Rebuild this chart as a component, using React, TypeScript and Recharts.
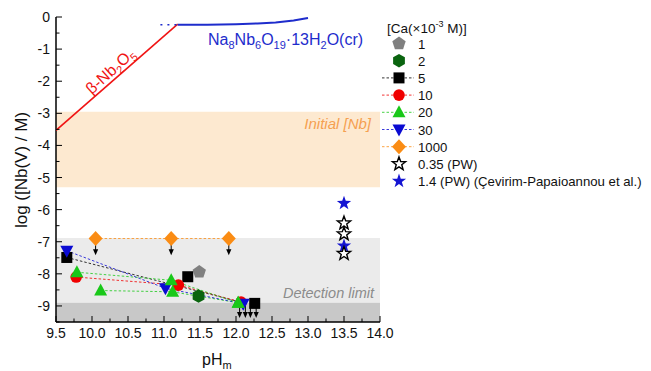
import React from 'react';
import { ComposedChart, XAxis, YAxis, Scatter, ReferenceArea } from 'recharts';

const FONT = '"Liberation Sans", Arial, sans-serif';

// ---- axis ticks ----
const xMajorTicks = [9.5, 10, 10.5, 11, 11.5, 12, 12.5, 13, 13.5, 14];
const xMinorTicks = [9.75, 10.25, 10.75, 11.25, 11.75, 12.25, 12.75, 13.25, 13.75];
const yMajorTicks = [-9, -8, -7, -6, -5, -4, -3, -2, -1, 0];
const yMinorTicks = [-9.5, -8.5, -7.5, -6.5, -5.5, -4.5, -3.5, -2.5, -1.5, -0.5];

// ---- bands ----
const initialNbBand = [-5.3, -2.95];
const detectionBand = [-8.9, -6.88];
const belowLimitBand = [-9.5, -8.9];

// ---- solubility lines ----
const nb2o5Line = [{ x: 9.5, y: -3.53 }, { x: 11.19, y: -0.22 }];
const na8Lead = [{ x: 10.95, y: -0.24 }, { x: 11.19, y: -0.24 }];
const na8Curve = [
  { x: 11.19, y: -0.24 }, { x: 11.6, y: -0.24 }, { x: 12.0, y: -0.225 },
  { x: 12.3, y: -0.2 }, { x: 12.55, y: -0.17 }, { x: 12.8, y: -0.11 }, { x: 13.0, y: -0.03 },
];

// ---- measured data ([Ca] x10^-3 M) ----
const ca1 = [{ x: 11.49, y: -7.94 }];
const ca2 = [{ x: 11.48, y: -8.69 }];
const ca5Line = [{ x: 9.65, y: -7.49 }, { x: 12.1, y: -8.9 }];
const ca5 = [{ x: 9.65, y: -7.49 }, { x: 11.33, y: -8.09 }, { x: 12.26, y: -8.92 }];
const ca10 = [{ x: 9.78, y: -8.1 }, { x: 11.2, y: -8.35 }, { x: 12.07, y: -8.88 }];
const ca20a = [{ x: 9.79, y: -7.95 }, { x: 11.1, y: -8.2 }, { x: 12.03, y: -8.9 }];
const ca20b = [{ x: 10.12, y: -8.52 }, { x: 11.12, y: -8.56 }, { x: 12.03, y: -8.9 }];
const ca30 = [{ x: 9.65, y: -7.28 }, { x: 11.02, y: -8.45 }, { x: 12.1, y: -8.93 }];
const ca1000 = [{ x: 10.05, y: -6.9 }, { x: 11.1, y: -6.9 }, { x: 11.9, y: -6.9 }];
const pw035 = [{ x: 13.5, y: -6.42 }, { x: 13.5, y: -6.76 }, { x: 13.5, y: -7.37 }];
const pw14 = [{ x: 13.5, y: -5.8 }, { x: 13.5, y: -7.13 }];
const upperLimitArrows = [
  { x: 10.05, y: -7.05 }, { x: 11.1, y: -7.05 }, { x: 11.9, y: -7.05 },
  { x: 12.05, y: -9.0 }, { x: 12.13, y: -9.0 }, { x: 12.2, y: -9.0 }, { x: 12.28, y: -9.0 },
];

// ---- colours ----
const C = {
  gray: '#808080', dkgreen: '#0a640f', black: '#000000', red: '#f00000',
  green: '#19c819', blue: '#0a0ad2', orange: '#fa8c14', star: '#1414d2',
};

const allXTicks = [...xMajorTicks, ...xMinorTicks].sort((a, b) => a - b);
const allYTicks = [...yMajorTicks, ...yMinorTicks].sort((a, b) => a - b);
const isMajorX = (v: number) => xMajorTicks.some((t) => Math.abs(t - v) < 1e-6);
const isMajorY = (v: number) => yMajorTicks.some((t) => Math.abs(t - v) < 1e-6);

// ---- marker shapes ----
const poly = (cx: number, cy: number, n: number, r: number, rot: number) =>
  Array.from({ length: n }, (_, i) => {
    const a = rot + (i * 2 * Math.PI) / n;
    return `${cx + r * Math.cos(a)},${cy + r * Math.sin(a)}`;
  }).join(' ');
const starPts = (cx: number, cy: number, ro: number, ri: number) =>
  Array.from({ length: 10 }, (_, i) => {
    const r = i % 2 === 0 ? ro : ri;
    const a = -Math.PI / 2 + (i * Math.PI) / 5;
    return `${cx + r * Math.cos(a)},${cy + r * Math.sin(a)}`;
  }).join(' ');

type MP = { cx?: number; cy?: number };
const Square = (c: string) => ({ cx = 0, cy = 0 }: MP) => <rect x={cx - 5.5} y={cy - 5.5} width={11} height={11} fill={c} />;
const Circle = (c: string) => ({ cx = 0, cy = 0 }: MP) => <circle cx={cx} cy={cy} r={5.8} fill={c} />;
const TriUp = (c: string) => ({ cx = 0, cy = 0 }: MP) => <polygon points={`${cx},${cy - 7} ${cx - 6.5},${cy + 5} ${cx + 6.5},${cy + 5}`} fill={c} />;
const TriDown = (c: string) => ({ cx = 0, cy = 0 }: MP) => <polygon points={`${cx},${cy + 7} ${cx - 6.5},${cy - 5} ${cx + 6.5},${cy - 5}`} fill={c} />;
const Diamond = (c: string) => ({ cx = 0, cy = 0 }: MP) => <polygon points={`${cx},${cy - 7.5} ${cx + 7},${cy} ${cx},${cy + 7.5} ${cx - 7},${cy}`} fill={c} />;
const Pentagon = (c: string) => ({ cx = 0, cy = 0 }: MP) => <polygon points={poly(cx, cy, 5, 7, -Math.PI / 2)} fill={c} />;
const Hexagon = (c: string) => ({ cx = 0, cy = 0 }: MP) => <polygon points={poly(cx, cy, 6, 6.8, -Math.PI / 2)} fill={c} />;
const StarFilled = (c: string) => ({ cx = 0, cy = 0 }: MP) => <polygon points={starPts(cx, cy, 7.5, 3)} fill={c} />;
const StarHollow = ({ cx = 0, cy = 0 }: MP) => <polygon points={starPts(cx, cy, 7, 2.9)} fill="#fff" stroke="#000" strokeWidth={1.4} strokeLinejoin="miter" />;
const Arrow = ({ cx = 0, cy = 0 }: MP) => (
  <g>
    <line x1={cx} y1={cy} x2={cx} y2={cy + 7} stroke="#000" strokeWidth={1} />
    <polygon points={`${cx - 2.6},${cy + 6} ${cx + 2.6},${cy + 6} ${cx},${cy + 12}`} fill="#000" />
  </g>
);
const NoDot = () => <g />;

// ---- ticks (inward) ----
const BottomTick = ({ x = 0, y = 0, payload }: any) => {
  const major = isMajorX(payload.value);
  return (
    <g>
      <line x1={x} y1={y} x2={x} y2={y - (major ? 6 : 3.5)} stroke="#000" strokeWidth={1} />
      {major && (
        <text x={x} y={y + 16} textAnchor="middle" fontSize={14} fontFamily={FONT} fill="#111">
          {payload.value.toFixed(1)}
        </text>
      )}
    </g>
  );
};
const TopTick = ({ x = 0, y = 0, payload }: any) => {
  const major = isMajorX(payload.value);
  return <line x1={x} y1={y} x2={x} y2={y + (major ? 6 : 3.5)} stroke="#000" strokeWidth={1} />;
};
const LeftTick = ({ x = 0, y = 0, payload }: any) => {
  const major = isMajorY(payload.value);
  return (
    <g>
      <line x1={x} y1={y} x2={x + (major ? 6 : 3.5)} y2={y} stroke="#000" strokeWidth={1} />
      {major && (
        <text x={x - 6} y={y + 5} textAnchor="end" fontSize={14} fontFamily={FONT} fill="#111">
          {payload.value === 0 ? '0' : String(payload.value)}
        </text>
      )}
    </g>
  );
};
const RightTick = ({ x = 0, y = 0, payload }: any) => {
  const major = isMajorY(payload.value);
  return <line x1={x} y1={y} x2={x - (major ? 6 : 3.5)} y2={y} stroke="#000" strokeWidth={1} />;
};

const dash = '2.5 2';

type LegendItem = { label: React.ReactNode; marker: (p: MP) => React.ReactElement; line?: string };
const legendItems: LegendItem[] = [
  { label: '1', marker: Pentagon(C.gray) },
  { label: '2', marker: Hexagon(C.dkgreen) },
  { label: '5', marker: Square(C.black), line: C.black },
  { label: '10', marker: Circle(C.red), line: C.red },
  { label: '20', marker: TriUp(C.green), line: C.green },
  { label: '30', marker: TriDown(C.blue), line: C.blue },
  { label: '1000', marker: Diamond(C.orange), line: C.orange },
  { label: '0.35 (PW)', marker: StarHollow },
  { label: '1.4 (PW) (Çevirim-Papaioannou et al.)', marker: StarFilled(C.star) },
];

export default function App() {
  return (
    <div style={{ position: 'absolute', left: 0, top: 0, width: 651, height: 371, background: '#fff', fontFamily: FONT }}>
      <ComposedChart width={651} height={371} margin={{ top: 17, right: 271, bottom: 0, left: 0 }}>
        <XAxis
          type="number" dataKey="x" domain={[9.5, 14]} ticks={allXTicks} interval={0}
          height={49} tickSize={0} tickMargin={0} tick={<BottomTick />} tickLine={false}
          axisLine={{ stroke: '#000', strokeWidth: 1.5 }} allowDataOverflow
        />
        <XAxis
          xAxisId="top" orientation="top" type="number" dataKey="x" domain={[9.5, 14]} ticks={allXTicks}
          interval={0} height={0} tickSize={0} tickMargin={0} tick={<TopTick />} tickLine={false}
          axisLine={{ stroke: '#000', strokeWidth: 1.5 }} allowDataOverflow
        />
        <YAxis
          type="number" dataKey="y" domain={[-9.5, 0]} ticks={allYTicks} interval={0}
          width={56} tickSize={0} tickMargin={0} tick={<LeftTick />} tickLine={false}
          axisLine={{ stroke: '#000', strokeWidth: 1.5 }} allowDataOverflow
        />
        <YAxis
          yAxisId="right" orientation="right" type="number" dataKey="y" domain={[-9.5, 0]} ticks={allYTicks}
          interval={0} width={0} tickSize={0} tickMargin={0} tick={<RightTick />} tickLine={false}
          axisLine={{ stroke: '#000', strokeWidth: 1.5 }} allowDataOverflow
        />

        <ReferenceArea y1={initialNbBand[0]} y2={initialNbBand[1]} x1={9.5} x2={14} fill="#fde9d0" fillOpacity={1} stroke="none" />
        <ReferenceArea y1={detectionBand[0]} y2={detectionBand[1]} x1={9.5} x2={14} fill="#ebebeb" fillOpacity={1} stroke="none" />
        <ReferenceArea y1={belowLimitBand[0]} y2={belowLimitBand[1]} x1={9.5} x2={14} fill="#c8c8c8" fillOpacity={1} stroke="none" />

        <Scatter data={nb2o5Line} dataKey="y" line={{ stroke: '#f01414', strokeWidth: 1.6 }} stroke="#f01414" shape={NoDot} isAnimationActive={false} />
        <Scatter data={na8Lead} dataKey="y" line={{ stroke: '#1e2ccc', strokeWidth: 1.6, strokeDasharray: '2 5' }} stroke="#1e2ccc" shape={NoDot} isAnimationActive={false} />
        <Scatter data={na8Curve} dataKey="y" line={{ stroke: '#1e2ccc', strokeWidth: 2 }} stroke="#1e2ccc" shape={NoDot} isAnimationActive={false} />

        <Scatter data={ca5Line} dataKey="y" line={{ stroke: C.black, strokeWidth: 0.8, strokeDasharray: dash }} stroke={C.black} shape={NoDot} isAnimationActive={false} />
        <Scatter data={ca10} dataKey="y" line={{ stroke: C.red, strokeWidth: 0.8, strokeDasharray: dash }} stroke={C.red} shape={NoDot} isAnimationActive={false} />
        <Scatter data={ca20a} dataKey="y" line={{ stroke: C.green, strokeWidth: 0.8, strokeDasharray: dash }} stroke={C.green} shape={NoDot} isAnimationActive={false} />
        <Scatter data={ca20b} dataKey="y" line={{ stroke: C.green, strokeWidth: 0.8, strokeDasharray: dash }} stroke={C.green} shape={NoDot} isAnimationActive={false} />
        <Scatter data={ca30} dataKey="y" line={{ stroke: C.blue, strokeWidth: 0.8, strokeDasharray: dash }} stroke={C.blue} shape={NoDot} isAnimationActive={false} />
        <Scatter data={ca1000} dataKey="y" line={{ stroke: C.orange, strokeWidth: 0.8, strokeDasharray: dash }} stroke={C.orange} shape={NoDot} isAnimationActive={false} />

        <Scatter data={upperLimitArrows} dataKey="y" shape={Arrow} isAnimationActive={false} />
        <Scatter data={ca1} dataKey="y" shape={Pentagon(C.gray)} isAnimationActive={false} />
        <Scatter data={ca2} dataKey="y" shape={Hexagon(C.dkgreen)} isAnimationActive={false} />
        <Scatter data={ca5} dataKey="y" shape={Square(C.black)} isAnimationActive={false} />
        <Scatter data={ca10} dataKey="y" shape={Circle(C.red)} isAnimationActive={false} />
        <Scatter data={ca30} dataKey="y" shape={TriDown(C.blue)} isAnimationActive={false} />
        <Scatter data={ca20a} dataKey="y" shape={TriUp(C.green)} isAnimationActive={false} />
        <Scatter data={ca20b} dataKey="y" shape={TriUp(C.green)} isAnimationActive={false} />
        <Scatter data={ca1000} dataKey="y" shape={Diamond(C.orange)} isAnimationActive={false} />
        <Scatter data={pw14} dataKey="y" shape={StarFilled(C.star)} isAnimationActive={false} />
        <Scatter data={pw035} dataKey="y" shape={StarHollow} isAnimationActive={false} />
      </ComposedChart>

      <svg width={651} height={371} style={{ position: 'absolute', left: 0, top: 0, pointerEvents: 'none' }} fontFamily={FONT}>
        {/* annotations */}
        <text transform="translate(114,75) rotate(-42)" textAnchor="middle" fontSize={16} fill="#f01414">
          β-Nb<tspan fontSize={11} dy={4}>2</tspan><tspan dy={-4}>O</tspan><tspan fontSize={11} dy={4}>5</tspan>
        </text>
        <text x={208} y={45} fontSize={16} fill="#1e2ccc">
          Na<tspan fontSize={11} dy={4}>8</tspan><tspan dy={-4}>Nb</tspan><tspan fontSize={11} dy={4}>6</tspan>
          <tspan dy={-4}>O</tspan><tspan fontSize={11} dy={4}>19</tspan><tspan dy={-4}>·13H</tspan>
          <tspan fontSize={11} dy={4}>2</tspan><tspan dy={-4}>O(cr)</tspan>
        </text>
        <text x={371} y={129} textAnchor="end" fontSize={15} fontStyle="italic" fill="#f5a050">Initial [Nb]</text>
        <text x={374} y={298} textAnchor="end" fontSize={14.5} fontStyle="italic" fill="#8c8c8c">Detection limit</text>

        {/* axis titles */}
        <text transform="translate(27,170) rotate(-90)" textAnchor="middle" fontSize={17} fill="#111">log ([Nb(V) / M)</text>
        <text x={202} y={365} fontSize={16} fill="#111">
          pH<tspan fontSize={11} dy={4}>m</tspan>
        </text>

        {/* legend */}
        <text x={387} y={33} fontSize={13.5} fill="#111">
          [Ca(×10<tspan fontSize={9} dy={-6}>-3</tspan><tspan dy={6}> M)]</tspan>
        </text>
        {legendItems.map((it, i) => {
          const cy = 43.5 + i * 17.2;
          const M = it.marker;
          return (
            <g key={i}>
              {it.line && <line x1={382} x2={414} y1={cy} y2={cy} stroke={it.line} strokeWidth={0.8} strokeDasharray={dash} />}
              <M cx={399} cy={cy} />
              <text x={418} y={cy + 5} fontSize={13.2} fill="#111">{it.label}</text>
            </g>
          );
        })}
      </svg>
    </div>
  );
}
